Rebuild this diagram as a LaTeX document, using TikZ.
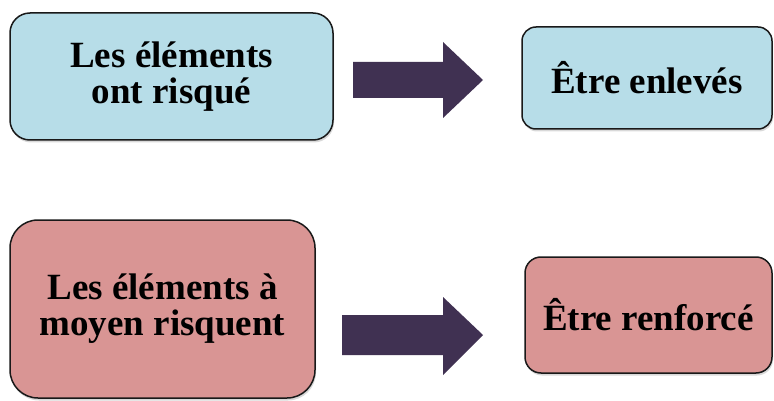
\documentclass[tikz,border=0pt]{standalone}
\usepackage{fontspec}
\setmainfont{Liberation Serif}
\usetikzlibrary{shadows}
\definecolor{boxblue}{HTML}{B7DDE8}
\definecolor{boxpink}{HTML}{D99594}
\definecolor{arrowpurple}{HTML}{403152}
\tikzset{
  box/.style={draw=black!90, line width=1.5pt, align=center, inner sep=0pt,
    font=\bfseries\fontsize{37}{36}\selectfont,
    drop shadow={shadow xshift=1pt, shadow yshift=-2.5pt, opacity=0.3}},
  bigarrow/.style={fill=arrowpurple, draw=none}
}
\begin{document}
\begin{tikzpicture}[x=1pt,y=-1pt]
\useasboundingbox (0,0) rectangle (774,401);
\node[box, fill=boxblue, rounded corners=20pt, minimum width=323pt, minimum height=127pt] (a) at (171.5,76.5) {Les éléments\\ont risqué};
\node[box, fill=boxblue, rounded corners=14pt, minimum width=250pt, minimum height=102pt] (b) at (647,78) {Être enlevés};
\node[box, fill=boxpink, rounded corners=28pt, minimum width=305pt, minimum height=178pt] (c) at (162.5,309) {Les éléments à\\moyen risquent};
\node[box, fill=boxpink, rounded corners=16pt, minimum width=247pt, minimum height=116pt] (d) at (648.5,315) {Être renforcé};
\path[bigarrow] (353,62) -- (443,62) -- (443,42) -- (483,80) -- (443,118) -- (443,98) -- (353,98) -- cycle;
\path[bigarrow] (342,315) -- (443,315) -- (443,297) -- (483,335) -- (443,375) -- (443,355) -- (342,355) -- cycle;
\end{tikzpicture}
\end{document}
